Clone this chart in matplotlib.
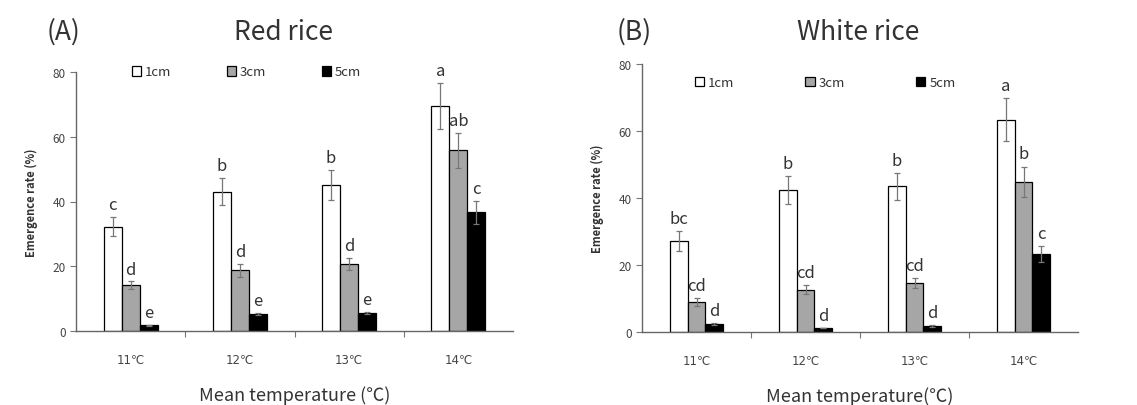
import numpy as np
import matplotlib
matplotlib.use("Agg")
import matplotlib.pyplot as plt
from matplotlib.patches import Patch

plt.rcParams["font.family"] = ["Noto Sans CJK KR", "DejaVu Sans"]

# ── Data ───────────────────────────────────────────────────────────────────
temps = ["11℃", "12℃", "13℃", "14℃"]
depths = ["1cm", "3cm", "5cm"]

red_mean = [
    [32.2, 43.0, 45.1, 69.5],   # 1cm
    [14.1, 18.7, 20.7, 55.9],   # 3cm
    [1.7, 5.3, 5.6, 36.7],      # 5cm
]
red_err = [
    [3.0, 4.2, 4.7, 7.0],
    [1.2, 2.0, 2.0, 5.4],
    [0.3, 0.4, 0.4, 3.5],
]
red_letters = [
    ["c", "b", "b", "a"],
    ["d", "d", "d", "ab"],
    ["e", "e", "e", "c"],
]

white_mean = [
    [27.1, 42.4, 43.5, 63.4],
    [8.9, 12.6, 14.6, 44.9],
    [2.3, 1.2, 1.8, 23.4],
]
white_err = [
    [3.0, 4.1, 4.1, 6.4],
    [1.2, 1.3, 1.5, 4.5],
    [0.3, 0.1, 0.2, 2.4],
]
white_letters = [
    ["bc", "b", "b", "a"],
    ["cd", "cd", "cd", "b"],
    ["d", "d", "d", "c"],
]

COLORS = ["white", "#a6a6a6", "black"]
W, H = 1137, 406
fig = plt.figure(figsize=(W / 100, H / 100), dpi=100, facecolor="white")


def draw_panel(rect, means, errs, letters, tag, title, tag_x, title_x,
               xlabel, leg_anchor, colspace):
    ax = fig.add_axes(rect)
    x = np.arange(len(temps))
    bw = 0.165
    for i, d in enumerate(depths):
        pos = x + (i - 1) * bw
        ax.bar(pos, means[i], bw, color=COLORS[i], edgecolor="black",
               linewidth=0.9, label=d, zorder=2)
        ax.errorbar(pos, means[i], yerr=errs[i], fmt="none",
                    ecolor="#777777", elinewidth=0.9, capsize=2.5,
                    capthick=0.9, zorder=3)
        for xp, m, e, lt in zip(pos, means[i], errs[i], letters[i]):
            ax.text(xp, m + e + 1.2, lt, ha="center", va="bottom",
                    fontsize=12, color="#333333")

    ax.set_xlim(-0.5, 3.5)
    ax.set_ylim(0, 80)
    ax.set_yticks([0, 20, 40, 60, 80])
    ax.set_xticks(x)
    ax.set_xticklabels(temps, family=["DejaVu Sans"])
    ax.set_xticks([0.5, 1.5, 2.5], minor=True)
    ax.tick_params(axis="x", which="major", length=0, pad=16,
                   labelsize=8.5, labelcolor="#444444")
    ax.tick_params(axis="x", which="minor", length=4, width=0.8,
                   color="#777777", direction="out")
    ax.tick_params(axis="y", length=4, width=0.8, color="#777777",
                   labelsize=8.5, labelcolor="#444444")
    for s in ["top", "right"]:
        ax.spines[s].set_visible(False)
    for s in ["left", "bottom"]:
        ax.spines[s].set_color("#666666")
        ax.spines[s].set_linewidth(1.0)

    ax.set_ylabel("Emergence rate (%)", fontsize=8, fontweight="bold",
                  color="#333333", labelpad=10)
    ax.set_xlabel(xlabel, fontsize=13, color="#333333", labelpad=14)

    handles = [Patch(facecolor=COLORS[i], edgecolor="black", linewidth=0.9)
               for i in range(3)]
    ax.legend(handles, depths, loc="center", bbox_to_anchor=leg_anchor,
              ncol=3, frameon=False, fontsize=9.5, handlelength=0.7,
              handleheight=0.7, handletextpad=0.3, columnspacing=colspace,
              labelcolor="#333333")

    fig.text(tag_x / W, 1 - 32 / H, tag, fontsize=19, color="#333333",
             ha="left", va="center")
    fig.text(title_x / W, 1 - 32 / H, title, fontsize=19, color="#333333",
             ha="center", va="center")
    return ax


draw_panel([76 / W, 1 - 332 / H, 437 / W, 259 / H],
           red_mean, red_err, red_letters, "(A)", "Red rice", 47, 283,
           "Mean temperature (℃)", (0.39, 1.0), 4.2)
draw_panel([642 / W, 1 - 333 / H, 436 / W, 268 / H],
           white_mean, white_err, white_letters, "(B)", "White rice", 617, 858,
           "Mean temperature(℃)", (0.42, 0.93), 5.4)

fig.savefig("out.png", dpi=100, facecolor="white")
